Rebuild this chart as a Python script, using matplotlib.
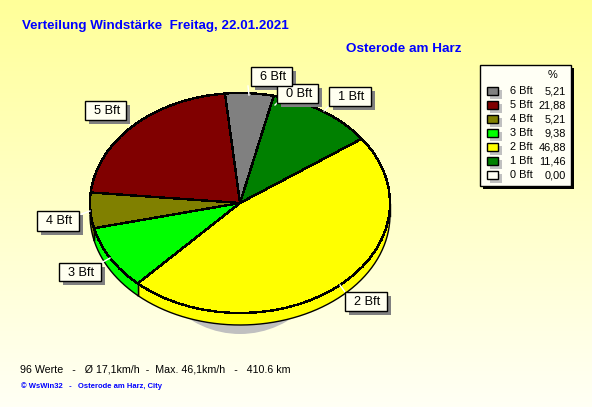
import numpy as np
import matplotlib
matplotlib.use("Agg")
import matplotlib.pyplot as plt
from matplotlib.patches import Rectangle, Ellipse
from matplotlib.colors import LinearSegmentedColormap

plt.rcParams['font.family'] = ['Liberation Sans', 'DejaVu Sans']

categories = ['0 Bft', '1 Bft', '2 Bft', '3 Bft', '4 Bft', '5 Bft', '6 Bft']
values = [0.00, 11.46, 46.88, 9.38, 5.21, 21.88, 5.21]
value_labels = ['0,00', '11,46', '46,88', '9,38', '5,21', '21,88', '5,21']
colors = ['#FFFFF5', '#008000', '#FFFF00', '#00FF00', '#808000', '#800000', '#808080']
title = 'Verteilung Windstärke  Freitag, 22.01.2021'
station = 'Osterode am Harz'
stats = '96 Werte   -   Ø 17,1km/h  -  Max. 46,1km/h   -   410.6 km'
credit = '© WsWin32   -   Osterode am Harz, City'

W, H = 592, 407
fig = plt.figure(figsize=(W / 100, H / 100), dpi=100)

# background + shadow layer, pixel coordinates
bg = fig.add_axes([0, 0, 1, 1])
bg.set_xlim(0, W); bg.set_ylim(H, 0); bg.axis('off')
cmap = LinearSegmentedColormap.from_list('bg', ['#FFFF99', '#FFFFF5'])
bg.imshow(np.linspace(0, 1, 256).reshape(-1, 1), cmap=cmap, extent=(0, W, H, 0), aspect='auto', zorder=0)
bg.set_xlim(0, W); bg.set_ylim(H, 0)
bg.add_patch(Ellipse((240, 225), 200, 218, fc='#C0C0C0', ec='none', zorder=1))
bg.add_patch(Ellipse((245, 110), 80, 36, fc='#C0C0C0', ec='none', zorder=1))

# pie layer
cx, cy, rx, ry, depth = 240, 203, 150, 110, 12
ax = fig.add_axes([(cx - rx) / W, 1 - (cy + ry) / H, 2 * rx / W, 2 * ry / H])
ax.patch.set_alpha(0)
start = 77.0
wedges, _ = ax.pie(values, colors=colors, startangle=start, counterclock=False, radius=1,
                   wedgeprops=dict(edgecolor='black', linewidth=1.0, antialiased=False))
for w in wedges:
    w.set_zorder(5)
ax.set_aspect('auto')
ax.set_xlim(-1, 1); ax.set_ylim(-1, 1)
ax.axis('off')

# side wall drawn from the same slice angles
d = depth / ry
total = sum(values)
edges = start - np.cumsum([0] + values) * 360 / total
for a0, a1, col in zip(edges[:-1], edges[1:], colors):
    if a0 == a1:
        continue
    t = np.radians(np.linspace(a0, a1, 200))
    t = t[np.sin(t) < 0.0]
    if len(t) < 2:
        continue
    x, y = np.cos(t), np.sin(t)
    ax.fill(np.r_[x, x[::-1]], np.r_[y, y[::-1] - d], color=col, lw=0, zorder=2, clip_on=False)
    ax.plot(x, y - d, color='black', lw=1.0, zorder=3, clip_on=False)
    ax.plot([x[0], x[0]], [y[0], y[0] - d], color='black', lw=1.0, zorder=3, clip_on=False)
    ax.plot([x[-1], x[-1]], [y[-1], y[-1] - d], color='black', lw=1.0, zorder=3, clip_on=False)

# text and box layer, pixel coordinates
ov = fig.add_axes([0, 0, 1, 1])
ov.set_xlim(0, W); ov.set_ylim(H, 0); ov.axis('off'); ov.patch.set_alpha(0)

ov.text(22, 25.5, title, color='#0000FF', fontsize=9.6, fontweight='bold', va='center', ha='left')
ov.text(345.5, 49.5, station, color='#0000FF', fontsize=9.7, fontweight='bold', va='center', ha='left')
ov.text(20, 369.5, stats, color='black', fontsize=7.7, va='center', ha='left')
ov.text(21, 386, credit, color='#0000FF', fontsize=5.5, fontweight='bold', va='center', ha='left')

# callout boxes: category -> (x0, y0, x1, y1, leader start, leader end)
boxes = {
    '6 Bft': (251, 67, 292, 86, (248, 86), (249, 95)),
    '0 Bft': (277, 84, 318, 103, (277, 103), (275, 105)),
    '1 Bft': (329, 87, 371, 106, (329, 106), (324, 111)),
    '5 Bft': (85, 101, 126, 120, (126, 120), (130, 125)),
    '4 Bft': (37, 211, 79, 231, (79, 215), (90, 211)),
    '3 Bft': (59, 263, 101, 281, (101, 263), (110, 258)),
    '2 Bft': (345, 292, 387, 311, (345, 292), (340, 285)),
}
for name in categories:
    x0, y0, x1, y1, p, q = boxes[name]
    ov.plot([p[0], q[0]], [p[1], q[1]], color='white', lw=1, zorder=2)
    ov.add_patch(Rectangle((x0 + 4, y0 + 4), x1 - x0, y1 - y0, fc='#808080', ec='none', zorder=3))
    ov.add_patch(Rectangle((x0, y0), x1 - x0, y1 - y0, fc='#FFFFF0', ec='black', lw=1, zorder=4))
    ov.text((x0 + x1) / 2 + 1.5, (y0 + y1) / 2 + 0.5, name, fontsize=9.2, color='black',
            ha='center', va='center', zorder=5)

# legend box
ov.add_patch(Rectangle((483, 68), 91, 121, fc='black', ec='none', zorder=3))
ov.add_patch(Rectangle((480, 65), 91, 121, fc='#FFFFF5', ec='black', lw=1, zorder=4))
ov.text(553, 74.5, '%', fontsize=7.9, ha='center', va='center', zorder=5)
order = list(range(len(categories)))[::-1]
for row, i in enumerate(order):
    y = 91 + 14 * row
    ov.add_patch(Rectangle((490, y - 1), 12, 9, fc='#C0C0C0', ec='none', zorder=5))
    ov.add_patch(Rectangle((487, y - 4), 11, 8, fc=colors[i], ec='black', lw=1, zorder=6))
    ov.text(510, y + 0.5, categories[i], fontsize=7.9, ha='left', va='center', zorder=6)
    ov.text(566, y + 0.5, value_labels[i], fontsize=7.9, ha='right', va='center', zorder=6)

fig.savefig('out.png', dpi=100)
